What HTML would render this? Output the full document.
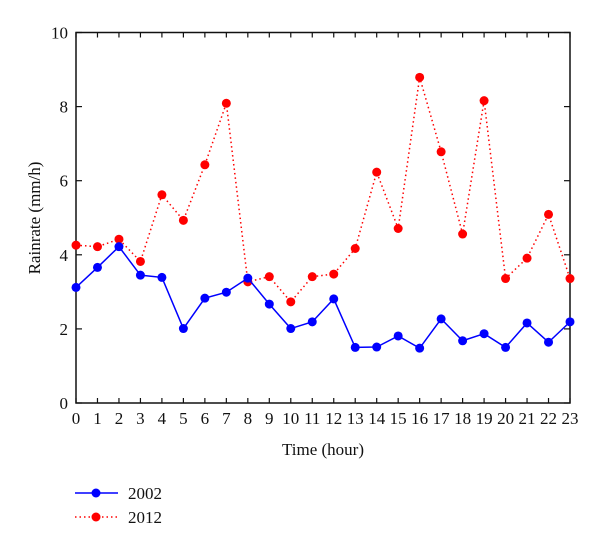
<!DOCTYPE html>
<html><head><meta charset="utf-8"><style>
body{margin:0;background:#fff}
svg text{font-family:"Liberation Serif",serif;fill:#111}
</style></head><body>
<svg id="c" width="600" height="549" xmlns="http://www.w3.org/2000/svg"></svg>
<script>
const hours=[0,1,2,3,4,5,6,7,8,9,10,11,12,13,14,15,16,17,18,19,20,21,22,23];
const series2002=[3.12,3.66,4.22,3.45,3.39,2.01,2.83,2.99,3.37,2.67,2.01,2.19,2.81,1.50,1.51,1.81,1.48,2.27,1.68,1.87,1.50,2.16,1.64,2.19];
const series2012=[4.26,4.22,4.42,3.82,5.62,4.93,6.43,8.09,3.27,3.41,2.73,3.41,3.48,4.17,6.23,4.71,8.79,6.78,4.56,8.16,3.36,3.91,5.09,3.36];
const yTicks=[0,2,4,6,8,10];
const NS="http://www.w3.org/2000/svg",svg=document.getElementById('c');
const L=76,R=570,T=32.5,B=403;
const x=v=>L+(v-0)/23*(R-L), y=v=>B-v/10*(B-T);
function el(t,a,p){const e=document.createElementNS(NS,t);for(const k in a)e.setAttribute(k,a[k]);(p||svg).appendChild(e);return e;}
const frame=el('rect',{x:L,y:T,width:R-L,height:B-T,fill:'none',stroke:'#111','stroke-width':1.5});


hours.forEach(h=>{
 const t1=el('line',{x1:x(h),x2:x(h),y1:B,y2:B-5,stroke:'#111','stroke-width':1.2});
 
 
 const t2=el('line',{x1:x(h),x2:x(h),y1:T,y2:T+5,stroke:'#111','stroke-width':1.2});
 
 
 const tl=el('text',{x:x(h),y:B+21,'text-anchor':'middle','font-size':17});
 tl.textContent=h;
 
 
});
yTicks.forEach(v=>{
 const t1=el('line',{x1:L,x2:L+6,y1:y(v),y2:y(v),stroke:'#111','stroke-width':1.2});
 
 
 const t2=el('line',{x1:R,x2:R-6,y1:y(v),y2:y(v),stroke:'#111','stroke-width':1.2});
 
 
 const tl=el('text',{x:L-8,y:y(v)+6,'text-anchor':'end','font-size':17});
 tl.textContent=v;
 
 
});
const xt=el('text',{x:323,y:455,'text-anchor':'middle','font-size':17});
xt.textContent='Time (hour)';


const yt=el('text',{x:0,y:0,'text-anchor':'middle','font-size':17,transform:'translate(40,218) rotate(-90)'});
yt.textContent='Rainrate (mm/h)';


function drawSeries(vals,color,dash,name){
 const pl=el('polyline',{points:vals.map((v,i)=>x(hours[i])+','+y(v)).join(' '),fill:'none',stroke:color,'stroke-width':1.5,'stroke-dasharray':dash});
 
 
 vals.forEach((v,i)=>{
  const c=el('circle',{cx:x(hours[i]),cy:y(v),r:4.5,fill:color});
  
  
 });
}
drawSeries(series2012,'#f00','1.5 3','series-2012');
drawSeries(series2002,'#00f','none','series-2002');
[['2002','#00f','none',493],['2012','#f00','1.5 3',517]].forEach(([lab,c,d,yy])=>{
 const g=el('g',{});
 
 
 el('line',{x1:75,x2:118,y1:yy,y2:yy,stroke:c,'stroke-width':1.5,'stroke-dasharray':d},g);
 el('circle',{cx:96,cy:yy,r:4.5,fill:c},g);
 const t=el('text',{x:128,y:yy+6,'font-size':17},g);
 t.textContent=lab;
});
</script>
</body></html>
